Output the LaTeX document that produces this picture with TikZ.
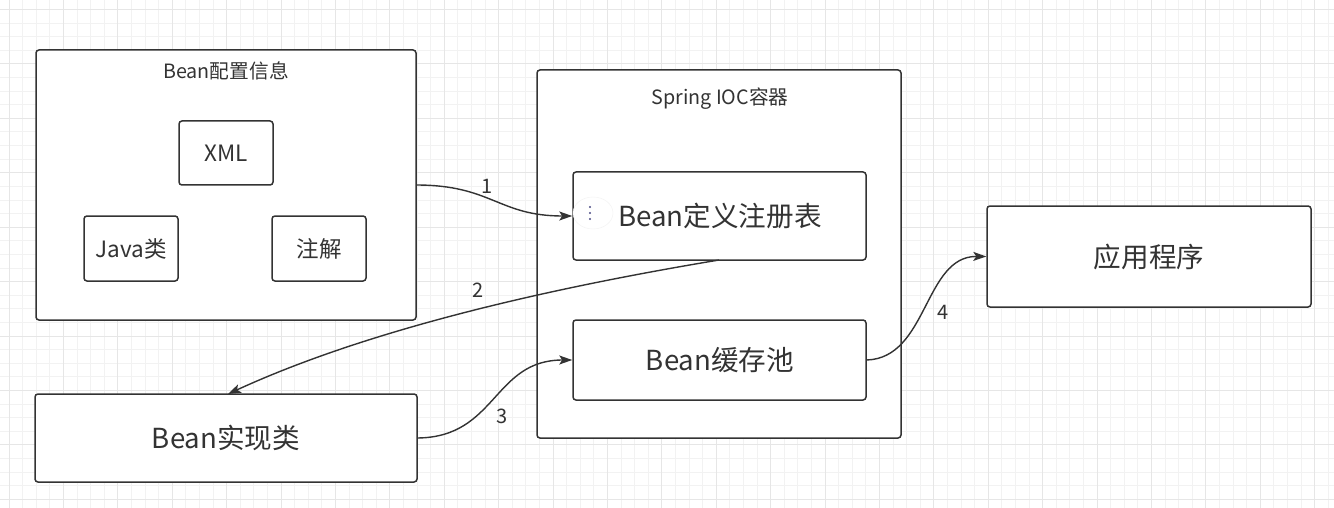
\documentclass[tikz,border=0pt]{standalone}
\usepackage{fontspec}
\setmainfont{Noto Sans CJK SC}
\usetikzlibrary{arrows.meta,shapes.geometric}
\definecolor{ink}{HTML}{333333}
\definecolor{gridminor}{HTML}{F2F2F2}
\definecolor{gridmajor}{HTML}{E6E6E6}
\tikzset{
  box/.style={draw=ink, line width=1.5pt, rounded corners=3pt, fill=white, inner sep=0pt},
  conn/.style={draw=ink, line width=1.4pt, -{Stealth[length=13pt,width=9pt,inset=3pt]}},
  lbl/.style={text=ink, font=\fontsize{20}{24}\selectfont, inner sep=0pt},
  big/.style={text=ink, font=\fontsize{27.6}{32}\selectfont},
  mid/.style={text=ink, font=\fontsize{22.5}{26}\selectfont},
  small/.style={text=ink, font=\fontsize{19.7}{23}\selectfont},
}
\begin{document}
\begin{tikzpicture}[x=1pt,y=-1pt]
\useasboundingbox (0,0) rectangle (1334,508);
\fill[white] (0,0) rectangle (1334,508);
% grid
\foreach \i in {0,...,97} {
  \pgfmathsetmacro\gx{9+13.6*\i}
  \draw[gridminor, line width=0.8pt] (\gx,0) -- (\gx,508);
}
\foreach \j in {0,...,37} {
  \pgfmathsetmacro\gy{9.5+13.6*\j}
  \draw[gridminor, line width=0.8pt] (0,\gy) -- (1334,\gy);
}
\foreach \i in {0,...,24} {
  \pgfmathsetmacro\gx{9+4*13.6*\i}
  \draw[gridmajor, line width=0.8pt] (\gx,0) -- (\gx,508);
}
\foreach \j in {0,...,9} {
  \pgfmathsetmacro\gy{9.5+4*13.6*\j}
  \draw[gridmajor, line width=0.8pt] (0,\gy) -- (1334,\gy);
}
% boxes
\draw[box] (36,50) rectangle (416,320);
\node[small] (cfgt) at (226,71) {Bean配置信息};
\draw[box] (179,121) rectangle node[mid] (xml) {XML} (273,185);
\draw[box] (84,216) rectangle node[mid] (java) {Java类} (178,281);
\draw[box] (272,216) rectangle node[mid] (anno) {注解} (366,281);
\coordinate (cfgout) at (416,185);

\draw[box] (537,70) rectangle (901,438);
\node[small] (iocq) at (720,99) {Spring IOC容器};
\node[box, minimum width=293pt, minimum height=88pt] (reg) at (719.5,216) {};
\node[big] (regt) at (720,216) {Bean定义注册表};
\node[box, minimum width=293pt, minimum height=80pt] (pool) at (719.5,360) {};
\node[big] (poolt) at (720,360) {Bean缓存池};
\node[box, minimum width=324pt, minimum height=101pt] (app) at (1149,256.5) {};
\node[big] (appt) at (1149,256.5) {应用程序};
\node[box, minimum width=382pt, minimum height=88pt] (impl) at (226,438) {};
\node[big] (implt) at (226,438) {Bean实现类};

% small handle
\node[ellipse, fill=white, draw=black!5, minimum width=40pt, minimum height=32pt, inner sep=0pt] (hdl) at (593,213) {};
\foreach \d in {-6,0,6} \fill[black!45!blue!40!gray] (590,213+\d) circle (1.2pt);

% connectors
\coordinate (regbot) at (719,260);
\coordinate (impltop) at (228,394);
\draw[conn] (cfgout) .. controls (492,185) and (498,216) .. (reg.west);
\draw[conn] (regbot) .. controls (569,285) and (378,325) .. (impltop);
\draw[conn] (impl.east) .. controls (497,437) and (493,360) .. (pool.west);
\draw[conn] (pool.east) .. controls (928,358) and (924,256) .. (app.west);
\node[lbl] (l1) at (487,186) {1};
\node[lbl] (l2) at (478,290) {2};
\node[lbl] (l3) at (502,416) {3};
\node[lbl] (l4) at (943,312) {4};
\end{tikzpicture}
\end{document}
